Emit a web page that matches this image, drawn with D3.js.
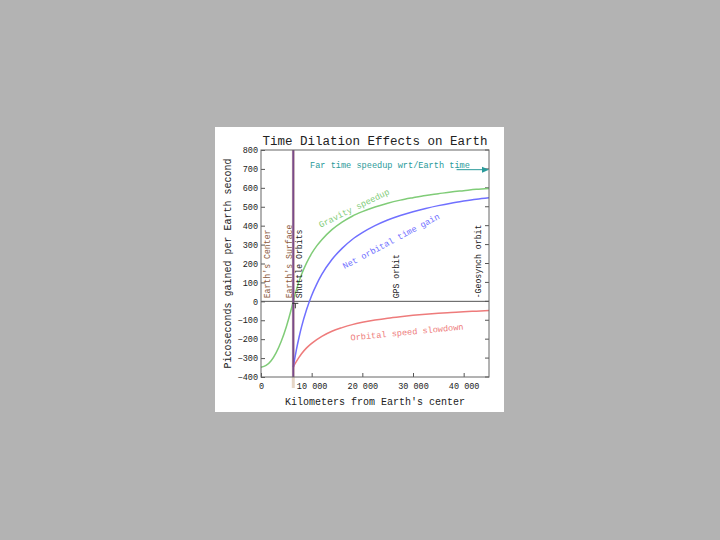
<!DOCTYPE html>
<html><head><meta charset="utf-8">
<script src="https://cdn.jsdelivr.net/npm/d3@7"></script>
<style>body{margin:0;background:#b3b3b3;} svg{display:block;}</style>
</head><body>
<script>
// ---- data ----
const xKm      = [0,1000,2000,3000,4000,5000,6000,6371,6700,7000,7500,8000,9000,10000,11000,12000,14000,16000,18000,20000,22500,25000,27500,30000,32500,35000,37500,40000,42500,45000];
const gravity  = [-348,-339,-314,-271,-211,-134,-39,0,34,62,105,142,203,253,293,326,379,419,450,474,499,519,535,548,560,569,578,585,592,597];
const orbitKm  = [6371,6500,6700,7000,7500,8000,9000,10000,11000,12000,14000,16000,18000,20000,22500,25000,27500,30000,32500,35000,37500,40000,42500,45000];
const orbital  = [-348,-341,-331,-317,-296,-277,-246,-222,-202,-185,-158,-139,-123,-111,-99,-89,-81,-74,-68,-63,-59,-55,-52,-49];
const netGain  = [-348,-327,-297,-254,-191,-135,-43,31,91,142,221,280,327,363,400,430,454,474,491,506,519,530,540,548];
const yTicks   = [-400,-300,-200,-100,0,100,200,300,400,500,600,700,800];
const xTicks   = [0,10000,20000,30000,40000];
const xTickLabels = ["0","10 000","20 000","30 000","40 000"];
const markerNames = ["Earth's Center","Earth's Surface","Shuttle Orbits","GPS orbit","-Geosynch orbit"];
const markerKm    = [0,6371,6771,26560,42164];
const farSpeedup  = 696;
const earthRadius = 6371;

const W=720,H=540;
const svg=d3.select("body").append("svg").attr("width",W).attr("height",H);
svg.append("rect").attr("width",W).attr("height",H).attr("fill","#b3b3b3");
svg.append("rect").attr("x",215).attr("y",127).attr("width",289).attr("height",285).attr("fill","#fff");

const x=d3.scaleLinear().domain([0,45000]).range([261,489]);
const y=d3.scaleLinear().domain([-400,800]).range([377,150]);
const font="'Liberation Mono','DejaVu Sans Mono',monospace";

// title
svg.append("text").attr("x",375).attr("y",145).attr("text-anchor","middle")
  .attr("font-family",font).attr("font-size",12.5).attr("fill","#222").text("Time Dilation Effects on Earth");

// axes
const gy=svg.append("g").attr("transform",`translate(${x(0)},0)`)
  .call(d3.axisLeft(y).tickValues(yTicks).tickSize(-4).tickPadding(3));
const gx=svg.append("g").attr("transform",`translate(0,${y(-400)})`)
  .call(d3.axisBottom(x).tickValues(xTicks).tickSize(-4).tickPadding(6).tickFormat((d,i)=>xTickLabels[i]));
[gx,gy].forEach(g=>{
  g.select(".domain").remove();
  g.selectAll("line").attr("stroke","#555");
  g.selectAll("text").attr("font-family",font).attr("font-size",8.5).attr("fill","#222");
});
svg.append("g").selectAll("line").data(yTicks).join("line")
  .attr("x1",x(45000)).attr("x2",x(45000)-4).attr("y1",d=>y(d)).attr("y2",d=>y(d)).attr("stroke","#555");

// axis labels
svg.append("text").attr("x",375).attr("y",405).attr("text-anchor","middle")
  .attr("font-family",font).attr("font-size",10).attr("fill","#222").text("Kilometers from Earth's center");
svg.append("text").attr("transform",`translate(231,${(150+377)/2}) rotate(-90)`).attr("text-anchor","middle")
  .attr("font-family",font).attr("font-size",10).attr("fill","#222").text("Picoseconds gained per Earth second");

// earth surface line (tan under, purple over)
svg.append("line").attr("x1",x(earthRadius)).attr("x2",x(earthRadius)).attr("y1",y(800)).attr("y2",y(-400)+11)
  .attr("stroke","#e6d6c6").attr("stroke-width",3);
svg.append("line").attr("x1",x(0)).attr("x2",x(45000)).attr("y1",y(0)).attr("y2",y(0)).attr("stroke","#555").attr("stroke-width",1);

// curves
const line=d3.line().curve(d3.curveMonotoneX);
svg.append("path").attr("d",line(xKm.map((d,i)=>[x(d),y(gravity[i])]))).attr("fill","none").attr("stroke","#80cc78").attr("stroke-width",1.5);
svg.append("path").attr("d",line(orbitKm.map((d,i)=>[x(d),y(orbital[i])]))).attr("fill","none").attr("stroke","#ee7b7b").attr("stroke-width",1.5);
svg.append("path").attr("d",line(orbitKm.map((d,i)=>[x(d),y(netGain[i])]))).attr("fill","none").attr("stroke","#7070ff").attr("stroke-width",1.5);

svg.append("line").attr("x1",x(earthRadius)).attr("x2",x(earthRadius)).attr("y1",y(800)).attr("y2",y(-400))
  .attr("stroke","#7a4a8a").attr("stroke-width",2);

// border
svg.append("rect").attr("x",x(0)).attr("y",y(800)).attr("width",x(45000)-x(0)).attr("height",y(-400)-y(800))
  .attr("fill","none").attr("stroke","#666").attr("stroke-width",1);

// marker labels
const markerColors=["#8b5a3c","#8b5a3c","#222","#222","#222"];
const markerDx=[6,-4,4,1,3];
markerKm.forEach((k,i)=>{
  svg.append("text").attr("transform",`translate(${x(k)+markerDx[i]},${y(0)-3}) rotate(-90)`)
    .attr("dy","0.35em").attr("font-family",font).attr("font-size",8.2).attr("fill",markerColors[i]).text(markerNames[i]);
});
svg.append("line").attr("x1",x(6771)-3).attr("x2",x(6771)+3).attr("y1",y(0)+2).attr("y2",y(0)+2).attr("stroke","#333");
svg.append("line").attr("x1",x(6771)).attr("x2",x(6771)).attr("y1",y(0)+2).attr("y2",y(0)+7).attr("stroke","#333");

// curve labels
function clabel(txt,cx,cy,ang,col){
  svg.append("text").attr("transform",`translate(${cx},${cy}) rotate(${ang})`).attr("text-anchor","middle")
    .attr("dy","0.35em").attr("font-family",font).attr("font-size",8.6).attr("fill",col).text(txt);
}
clabel("Gravity speedup",354,208,-26,"#80cc78");
clabel("Net orbital time gain",391,241,-28,"#7070ff");
clabel("Orbital speed slowdown",407,332,-5.5,"#ee7b7b");

// far speedup arrow + label
svg.append("text").attr("x",310).attr("y",y(720)).attr("dy","0.35em").attr("font-family",font).attr("font-size",8.6)
  .attr("fill","#2a9a9a").text("Far time speedup wrt/Earth time");
const ya=y(farSpeedup);
svg.append("line").attr("x1",x(38600)).attr("x2",x(45000)-5).attr("y1",ya).attr("y2",ya).attr("stroke","#2a9a9a").attr("stroke-width",1);
svg.append("path").attr("d",`M${x(45000)},${ya} l-7,-3 l0,6 z`).attr("fill","#2a9a9a");
</script>
</body></html>
